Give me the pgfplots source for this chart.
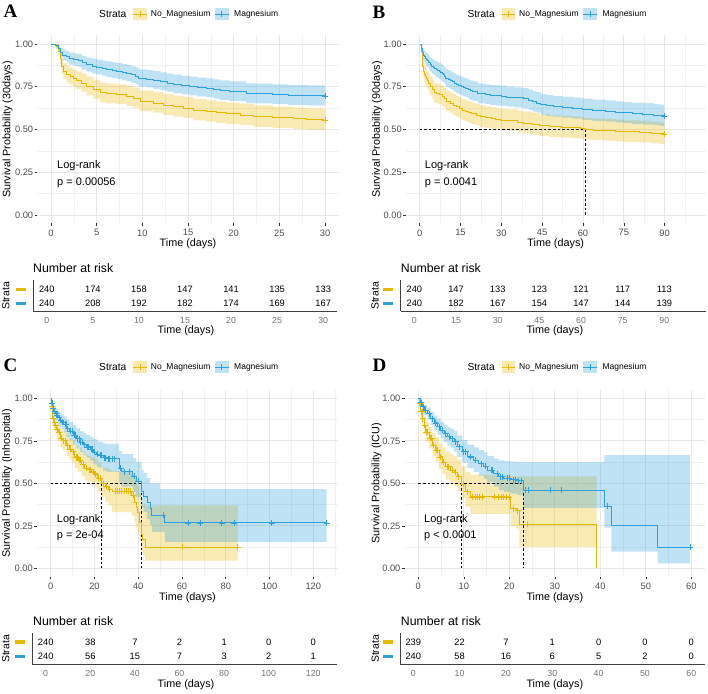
\documentclass[border=0pt]{standalone}
\usepackage{pgfplots}
\pgfplotsset{compat=1.18}
\usepackage{pgfplotstable}
\usepgfplotslibrary{fillbetween}
\usepackage{fontspec}
\setmainfont{Liberation Sans}
\newfontfamily\letterfont{Liberation Serif}

\definecolor{cY}{HTML}{E7B800}
\definecolor{cB}{HTML}{2E9FDF}
\definecolor{tk}{HTML}{4D4D4D}

% ---------- Kaplan-Meier estimates: time, survival, 95% lower, 95% upper ----------
% 30-day survival
\pgfplotstableread{
t s lo up
0 1 1 1
0.55 .986 .971 1
0.80 .957 .932 .983
0.99 .918 .884 .953
1.17 .869 .827 .913
1.35 .840 .795 .888
1.72 .821 .774 .871
2.08 .811 .763 .862
2.45 .797 .748 .850
2.81 .786 .736 .840
3.36 .772 .721 .827
3.90 .753 .700 .810
4.64 .733 .679 .791
5.37 .714 .659 .774
6.10 .708 .653 .768
7.19 .704 .649 .764
8.28 .694 .638 .755
9.00 .684 .628 .745
9.74 .665 .608 .727
11.2 .655 .598 .718
12.3 .643 .585 .707
13.4 .633 .575 .697
14.5 .625 .567 .689
15.6 .612 .553 .677
17.0 .605 .546 .670
18.1 .598 .539 .663
19.2 .592 .533 .657
20.7 .585 .526 .651
22.2 .575 .516 .641
24.3 .568 .509 .634
26.5 .562 .503 .628
28.0 .558 .499 .624
29.8 .554 .495 .621
30 .554 .495 .621
}\Ay
\pgfplotstableread{
t s lo up
0 1 1 1
0.5 .99 .977 1
0.8 .975 .955 .995
1.0 .95 .923 .978
1.3 .935 .904 .967
1.7 .925 .892 .959
2.0 .915 .880 .951
2.5 .908 .872 .945
3.0 .903 .866 .941
3.4 .89 .851 .930
3.9 .878 .838 .920
4.5 .87 .828 .914
5.0 .865 .823 .909
5.6 .858 .815 .903
6.1 .852 .808 .898
6.7 .846 .802 .893
7.2 .84 .795 .888
7.8 .834 .788 .882
8.3 .828 .782 .877
8.8 .82 .773 .870
9.3 .812 .764 .863
9.6 .80 .751 .852
10.5 .795 .746 .848
11.2 .787 .737 .841
12.0 .78 .729 .834
12.7 .772 .721 .827
13.4 .765 .713 .821
14.3 .758 .706 .814
15.2 .752 .699 .809
16.0 .747 .694 .804
17.0 .742 .689 .799
17.8 .735 .681 .793
18.5 .728 .674 .787
19.5 .722 .667 .781
21.4 .71 .655 .770
22.5 .708 .653 .768
24.3 .704 .649 .764
26.0 .70 .644 .760
28.0 .697 .641 .758
30 .696 .640 .757
}\Ab
% 90-day survival
\pgfplotstableread{
t s lo up
0 1 1 1
0.55 .986 .971 1
0.80 .957 .932 .983
0.99 .918 .884 .953
1.17 .869 .827 .913
1.35 .840 .795 .888
1.72 .821 .774 .871
2.08 .811 .763 .862
2.45 .797 .748 .850
2.81 .786 .736 .840
3.36 .772 .721 .827
3.90 .753 .700 .810
4.64 .733 .679 .791
5.37 .714 .659 .774
6.10 .708 .653 .768
7.19 .704 .649 .764
8.28 .694 .638 .755
9.00 .684 .628 .745
9.74 .665 .608 .727
11.2 .655 .598 .718
12.3 .643 .585 .707
13.4 .633 .575 .697
14.5 .625 .567 .689
15.6 .612 .553 .677
17.0 .605 .546 .670
18.1 .598 .539 .663
19.2 .592 .533 .657
20.7 .585 .526 .651
22.2 .575 .516 .641
24.3 .568 .509 .634
26.5 .562 .503 .628
28.0 .558 .499 .624
29.8 .554 .495 .621
33 .55 .491 .617
36 .543 .483 .610
38 .538 .478 .605
41.5 .53 .470 .597
44 .522 .462 .589
47.7 .515 .455 .582
52 .513 .453 .580
56 .51 .450 .577
59 .506 .446 .573
60.8 .50 .441 .567
64 .497 .438 .564
68.4 .495 .435 .562
72 .49 .431 .558
75.5 .487 .428 .554
80.7 .483 .424 .551
85 .478 .419 .546
88 .474 .415 .542
89.9 .471 .412 .539
}\By
\pgfplotstableread{
t s lo up
0 1 1 1
0.5 .99 .977 1
0.8 .975 .955 .995
1.0 .95 .923 .978
1.3 .935 .904 .967
1.7 .925 .892 .959
2.0 .915 .880 .951
2.5 .908 .872 .945
3.0 .903 .866 .941
3.4 .89 .851 .930
3.9 .878 .838 .920
4.5 .87 .828 .914
5.0 .865 .823 .909
5.6 .858 .815 .903
6.1 .852 .808 .898
6.7 .846 .802 .893
7.2 .84 .795 .888
7.8 .834 .788 .882
8.3 .828 .782 .877
8.8 .82 .773 .870
9.3 .812 .764 .863
9.6 .80 .751 .852
10.5 .795 .746 .848
11.2 .787 .737 .841
12.0 .78 .729 .834
12.7 .772 .721 .827
13.4 .765 .713 .821
14.3 .758 .706 .814
15.2 .752 .699 .809
16.0 .747 .694 .804
17.0 .742 .689 .799
17.8 .735 .681 .793
18.5 .728 .674 .787
19.5 .722 .667 .781
21.4 .71 .655 .770
22.5 .708 .653 .768
24.3 .704 .649 .764
26.0 .70 .644 .760
28.0 .697 .641 .758
30 .696 .640 .757
32 .69 .634 .751
35 .686 .630 .747
38 .68 .623 .742
40 .672 .615 .734
41.5 .662 .605 .725
43 .655 .598 .718
44.5 .645 .587 .709
46.4 .638 .580 .702
49 .633 .575 .697
52.5 .628 .570 .692
56.2 .622 .564 .686
59.9 .615 .556 .680
63.5 .61 .551 .675
68.4 .605 .546 .670
72 .60 .541 .665
74.6 .597 .538 .662
78 .592 .533 .657
82 .588 .529 .654
86 .584 .525 .650
88 .58 .521 .646
89.9 .577 .518 .643
}\Bb
% in-hospital survival
\pgfplotstableread{
t s lo up
0 1 1 1
0.5 .95 .923 .978
0.9 .88 .84 .92
1.5 .86 .817 .905
2.0 .84 .795 .887
2.7 .815 .767 .865
3.5 .80 .75 .853
4.5 .765 .712 .822
5.5 .75 .695 .81
7.3 .72 .662 .783
8.5 .70 .64 .766
9.6 .685 .622 .754
11.0 .655 .59 .728
12.5 .635 .568 .71
14.2 .612 .543 .69
15.5 .59 .52 .67
16.8 .58 .508 .662
18.7 .567 .493 .652
20.2 .555 .48 .642
21.3 .53 .453 .62
23.3 .498 .42 .59
25.0 .482 .39 .59
26.5 .465 .37 .58
28.0 .452 .33 .57
37.0 .43 .31 .56
38.3 .39 .27 .53
39.0 .36 .24 .50
39.6 .33 .21 .48
40.5 .27 .16 .44
41.3 .20 .10 .40
42.0 .17 .075 .38
43.1 .124 .045 .37
85.5 .124 .045 .37
}\Cy
\pgfplotstableread{
t s lo up
0 1 1 1
0.5 .97 .949 .99
0.9 .94 .91 .97
1.5 .925 .892 .958
2.2 .91 .875 .946
2.7 .90 .864 .938
3.5 .885 .846 .926
4.2 .872 .83 .915
5.0 .861 .817 .906
6.0 .846 .80 .894
7.3 .822 .773 .874
8.5 .805 .753 .86
10.3 .782 .727 .84
11.8 .762 .705 .823
13.4 .743 .683 .807
15.0 .727 .665 .794
16.4 .714 .65 .784
18.0 .70 .633 .773
19.5 .684 .615 .76
21.0 .672 .60 .752
21.8 .665 .592 .745
24.0 .651 .575 .735
25.6 .645 .567 .732
31.3 .59 .505 .69
32.4 .568 .48 .672
37.5 .54 .45 .65
39.0 .512 .42 .625
41.6 .45 .355 .58
42.5 .425 .33 .56
44.0 .385 .29 .53
45.4 .35 .255 .50
46.2 .312 .215 .50
50.0 .312 .215 .465
52.2 .267 .155 .465
126.1 .267 .155 .465
}\Cb
% ICU survival
\pgfplotstableread{
t s lo up
0 1 1 1
0.3 .97 .95 .99
0.5 .92 .885 .956
0.9 .88 .837 .925
1.25 .84 .79 .893
1.6 .80 .745 .86
2.35 .765 .705 .83
3.1 .725 .66 .797
3.8 .695 .627 .772
4.55 .655 .585 .735
5.3 .625 .552 .71
6.0 .598 .522 .687
7.1 .578 .50 .67
7.85 .565 .485 .66
8.6 .538 .455 .637
9.45 .495 .41 .60
10.4 .45 .36 .565
11.5 .42 .32 .55
20.3 .35 .25 .54
21.5 .34 .235 .54
22.2 .26 .126 .54
39.2 0 .126 .54
}\Dy
\pgfplotstableread{
t s lo up
0 1 1 1
0.5 .975 .955 .995
0.9 .95 .924 .977
1.25 .93 .90 .96
2.0 .91 .876 .945
2.7 .88 .842 .92
3.45 .855 .813 .90
4.2 .832 .787 .88
4.9 .812 .765 .862
5.65 .792 .742 .845
6.4 .775 .722 .832
7.1 .762 .707 .822
7.85 .745 .688 .808
8.6 .715 .655 .78
9.7 .685 .622 .755
10.8 .655 .59 .728
12.2 .635 .567 .712
13.3 .615 .545 .695
14.4 .60 .528 .682
15.2 .578 .505 .662
16.6 .557 .48 .645
17.7 .538 .46 .635
18.8 .53 .45 .63
20.3 .522 .44 .627
21.8 .515 .43 .625
23.1 .46 .355 .625
40.9 .365 .24 .665
42.4 .25 .098 .665
52.6 .125 .029 .665
59.7 .125 .029 .665
}\Db

% ---------- numbers at risk: time, stratum row (2 = No_Magnesium, 1 = Magnesium), count ----------
\pgfplotstableread{
t r n
0 2 240
5 2 174
10 2 158
15 2 147
20 2 141
25 2 135
30 2 133
0 1 240
5 1 208
10 1 192
15 1 182
20 1 174
25 1 169
30 1 167
}\RA
\pgfplotstableread{
t r n
0 2 240
15 2 147
30 2 133
45 2 123
60 2 121
75 2 117
90 2 113
0 1 240
15 1 182
30 1 167
45 1 154
60 1 147
75 1 144
90 1 139
}\RB
\pgfplotstableread{
t r n
0 2 240
20 2 38
40 2 7
60 2 2
80 2 1
100 2 0
120 2 0
0 1 240
20 1 56
40 1 15
60 1 7
80 1 3
100 1 2
120 1 1
}\RC
\pgfplotstableread{
t r n
0 2 239
10 2 22
20 2 7
30 2 1
40 2 0
50 2 0
60 2 0
0 1 240
10 1 58
20 1 16
30 1 6
40 1 5
50 1 2
60 1 0
}\RD

\pgfplotsset{
  /pgf/number format/assume math mode=true,
  km/.style={
    scale only axis, anchor=south west,
    axis line style={draw=none},
    xtick pos=left, ytick pos=left,
    tick align=outside, major tick length=2.6pt, minor tick length=0pt,
    tick style={draw=black!80, line width=0.55pt},
    grid=both,
    major grid style={draw=black!9, line width=0.8pt},
    minor grid style={draw=black!6, line width=0.45pt},
    ymin=-0.05, ymax=1.05,
    ytick={0,0.25,0.5,0.75,1},
    yticklabels={0.00,0.25,0.50,0.75,1.00},
    minor ytick={0.125,0.375,0.625,0.875},
    tick label style={font=\fontsize{9.3}{10}\selectfont, text=tk, inner sep=0pt},
    xticklabel style={anchor=north, yshift=-3.3pt},
    yticklabel style={anchor=east, xshift=-1.4pt},
  },
  band/.style={draw=none, fill=#1, fill opacity=0.3},
  bound/.style={const plot, draw=none, mark=none},
  curve/.style={const plot, #1, line width=0.9pt, mark=none},
  cens/.style={only marks, mark=+, mark size=3pt, #1, mark options={line width=0.8pt, solid}},
  med/.style={black, line width=0.65pt, dash pattern=on 2.6pt off 2pt, mark=none},
  risk/.style={
    scale only axis, anchor=south west,
    axis x line*=bottom, axis y line*=left,
    axis line style={draw=black!75, line width=0.6pt},
    tick style={draw=none}, major tick length=0pt, minor tick length=0pt,
    ymin=0.45, ymax=2.65, ytick={1,2},
    yticklabels={{\textcolor{cB}{\rule{10pt}{3.3pt}}},{\textcolor{cY}{\rule{10pt}{3.3pt}}}},
    yticklabel style={anchor=east, inner sep=0pt, xshift=-7pt},
    xticklabel style={font=\fontsize{8.8}{9}\selectfont, text=black!55, anchor=north, inner sep=0pt, yshift=-5.9pt},
    clip=false,
  },
  rnum/.style={draw=none, mark=none, nodes near coords, point meta=explicit symbolic,
    nodes near coords style={anchor=center, inner sep=0pt, font=\fontsize{9.3}{10}\selectfont, text=black}},
}

% legend row: "Strata" and the two keys
\newcommand{\kmkey}[3]{%
  \fill[#3!30] (#1,#2-5.8) rectangle ++(13.7,11.6);
  \draw[#3, line width=0.9pt] (#1,#2) -- ++(13.7,0);
  \draw[#3, line width=0.8pt] (#1+6.85,#2-3) -- ++(0,6);
}
\newcommand{\kmlegend}[2]{%
  \node[anchor=west, inner sep=0pt, font=\fontsize{10.2}{11}\selectfont] at (#1,#2) {Strata};
  \kmkey{#1+34.3}{#2}{cY}
  \node[anchor=west, inner sep=0pt, font=\fontsize{8.5}{9}\selectfont] at (#1+51.7,#2) {No\_Magnesium};
  \kmkey{#1+116}{#2}{cB}
  \node[anchor=west, inner sep=0pt, font=\fontsize{8.5}{9}\selectfont] at (#1+135,#2) {Magnesium};
}
\newcommand{\ttl}{\fontsize{10.8}{11}\selectfont}

\begin{document}
\begin{tikzpicture}[x=1pt, y=1pt]

% ================= A: 30 days =================
\begin{axis}[km, at={(37.3pt,469.5pt)}, width=301.4pt, height=188pt,
  xmin=-1.5, xmax=31.5, xtick={0,5,...,30}, minor xtick={2.5,7.5,...,27.5}]
  \addplot[bound, name path=ayu] table[x=t,y=up]{\Ay};
  \addplot[bound, name path=ayl] table[x=t,y=lo]{\Ay};
  \addplot[band=cY] fill between[of=ayu and ayl];
  \addplot[bound, name path=abu] table[x=t,y=up]{\Ab};
  \addplot[bound, name path=abl] table[x=t,y=lo]{\Ab};
  \addplot[band=cB] fill between[of=abu and abl];
  \addplot[curve=cY] table[x=t,y=s]{\Ay};
  \addplot[curve=cB] table[x=t,y=s]{\Ab};
  \addplot[cens=cY] coordinates {(30,0.554)};
  \addplot[cens=cB] coordinates {(30,0.696)};
\end{axis}
\begin{axis}[risk, at={(33pt,382pt)}, width=304pt, height=30.8pt,
  xmin=-1.5, xmax=31.5, xtick={0,5,...,30}]
  \addplot[rnum] table[x=t,y=r,meta=n]{\RA};
\end{axis}

% ================= B: 90 days =================
\begin{axis}[km, at={(406pt,469.5pt)}, width=299.5pt, height=188pt,
  xmin=-5, xmax=105, xtick={0,15,...,90}, minor xtick={7.5,22.5,...,97.5}]
  \addplot[bound, name path=byu] table[x=t,y=up]{\By};
  \addplot[bound, name path=byl] table[x=t,y=lo]{\By};
  \addplot[band=cY] fill between[of=byu and byl];
  \addplot[bound, name path=bbu] table[x=t,y=up]{\Bb};
  \addplot[bound, name path=bbl] table[x=t,y=lo]{\Bb};
  \addplot[band=cB] fill between[of=bbu and bbl];
  \addplot[med] coordinates {(0,0.5) (60.8,0.5) (60.8,0)};
  \addplot[curve=cY] table[x=t,y=s]{\By};
  \addplot[curve=cB] table[x=t,y=s]{\Bb};
  \addplot[cens=cY] coordinates {(89.9,0.471)};
  \addplot[cens=cB] coordinates {(89.9,0.577)};
\end{axis}
\begin{axis}[risk, at={(400.5pt,382pt)}, width=305.5pt, height=30.8pt,
  xmin=-5, xmax=105, xtick={0,15,...,90}]
  \addplot[rnum] table[x=t,y=r,meta=n]{\RB};
\end{axis}

% ================= C: in-hospital =================
\begin{axis}[km, at={(37pt,116.2pt)}, width=301pt, height=187pt,
  xmin=-6.26, xmax=131.3, xtick={0,20,...,120}, minor xtick={10,30,...,130}]
  \addplot[bound, name path=cyu] table[x=t,y=up]{\Cy};
  \addplot[bound, name path=cyl] table[x=t,y=lo]{\Cy};
  \addplot[band=cY] fill between[of=cyu and cyl];
  \addplot[bound, name path=cbu] table[x=t,y=up]{\Cb};
  \addplot[bound, name path=cbl] table[x=t,y=lo]{\Cb};
  \addplot[band=cB] fill between[of=cbu and cbl];
  \addplot[med] coordinates {(0,0.5) (41.6,0.5)};
  \addplot[med] coordinates {(23.3,0.5) (23.3,0)};
  \addplot[med] coordinates {(41.6,0.5) (41.6,0)};
  \addplot[curve=cY] table[x=t,y=s]{\Cy};
  \addplot[curve=cB] table[x=t,y=s]{\Cb};
  \addplot[cens=cY] coordinates {(0.7,.95) (1.2,.88) (1.8,.86) (2.3,.84) (3.0,.815) (3.9,.80) (4.9,.765) (6.0,.75) (6.6,.75) (7.8,.72) (8.9,.70) (10.2,.685) (11.6,.655) (12.0,.655) (13.0,.635) (13.6,.635) (14.8,.612) (16.1,.59) (17.5,.58) (18.0,.58) (19.3,.567) (20.6,.555) (22.0,.53) (22.6,.53) (24.0,.498) (25.6,.482) (27.0,.465) (29.5,.452) (30.5,.452) (31.5,.452) (32.5,.452) (33.5,.452) (34.5,.452) (35.5,.452) (36.3,.452) (37.6,.43) (60.3,.124) (85.5,.124)};
  \addplot[cens=cB] coordinates {(0.7,.97) (1.2,.94) (1.8,.925) (2.4,.91) (3.0,.90) (3.8,.885) (4.6,.872) (5.5,.861) (6.5,.846) (7.0,.846) (7.8,.822) (9.0,.805) (9.8,.805) (10.8,.782) (11.2,.782) (12.3,.762) (12.9,.762) (13.8,.743) (14.5,.743) (15.5,.727) (16.8,.714) (17.3,.714) (18.5,.70) (19.0,.70) (20.2,.684) (21.4,.672) (22.5,.665) (23.2,.665) (24.5,.651) (25.0,.651) (26.2,.645) (27.0,.645) (28.0,.645) (29.0,.645) (32.0,.59) (33.5,.568) (36.0,.568) (38.2,.54) (40.0,.512) (51.3,.312) (62.9,.267) (68.2,.267) (78.1,.267) (83.9,.267) (101,.267) (126.1,.267)};
\end{axis}
\begin{axis}[risk, at={(32.3pt,28.7pt)}, width=304.4pt, height=31.7pt,
  xmin=-6, xmax=130.5, xtick={0,20,...,120}]
  \addplot[rnum] table[x=t,y=r,meta=n]{\RC};
\end{axis}

% ================= D: ICU =================
\begin{axis}[km, at={(404.6pt,116.2pt)}, width=300.4pt, height=187pt,
  xmin=-3.01, xmax=63, xtick={0,10,...,60}, minor xtick={5,15,...,55}]
  \addplot[bound, name path=dyu] table[x=t,y=up]{\Dy};
  \addplot[bound, name path=dyl] table[x=t,y=lo]{\Dy};
  \addplot[band=cY] fill between[of=dyu and dyl];
  \addplot[bound, name path=dbu] table[x=t,y=up]{\Db};
  \addplot[bound, name path=dbl] table[x=t,y=lo]{\Db};
  \addplot[band=cB] fill between[of=dbu and dbl];
  \addplot[med] coordinates {(0,0.5) (23.1,0.5) (23.1,0)};
  \addplot[med] coordinates {(9.45,0.5) (9.45,0)};
  \addplot[curve=cY] table[x=t,y=s]{\Dy};
  \addplot[curve=cB] table[x=t,y=s]{\Db};
  \addplot[cens=cY] coordinates {(0.35,.97) (0.6,.92) (0.8,.92) (1.0,.88) (1.4,.84) (1.8,.80) (2.1,.80) (2.6,.765) (2.9,.765) (3.4,.725) (4.0,.695) (4.3,.695) (4.8,.655) (5.6,.625) (6.3,.598) (6.7,.598) (7.5,.578) (8.1,.565) (8.9,.538) (9.9,.495) (10.8,.45) (11.9,.42) (12.6,.42) (13.0,.42) (13.5,.42) (14.0,.42) (16.8,.42) (17.5,.42) (18.2,.42) (18.8,.42) (19.4,.42) (20.0,.42) (21.0,.35) (21.8,.34) (24.0,.26)};
  \addplot[cens=cB] coordinates {(0.7,.975) (1.1,.95) (1.6,.93) (2.35,.91) (3.1,.88) (3.8,.855) (4.55,.832) (5.3,.812) (6.0,.792) (6.75,.775) (7.4,.762) (8.2,.745) (8.95,.715) (10.0,.685) (10.4,.685) (11.5,.655) (12.6,.635) (13.8,.615) (14.8,.60) (16.0,.578) (16.3,.578) (17.4,.557) (18.1,.538) (18.5,.538) (19.6,.53) (20.0,.53) (21.0,.522) (21.4,.522) (22.1,.515) (22.6,.515) (23.6,.46) (24.1,.46) (29.1,.46) (31.4,.46) (41.5,.365) (59.7,.125)};
\end{axis}
\begin{axis}[risk, at={(400pt,28.7pt)}, width=305pt, height=31.7pt,
  xmin=-2.87, xmax=62.96, xtick={0,10,...,60}]
  \addplot[rnum] table[x=t,y=r,meta=n]{\RD};
\end{axis}

% ---------- panel letters ----------
\begin{scope}[every node/.style={anchor=base west, inner sep=0pt, font=\letterfont\bfseries\fontsize{19}{19}\selectfont}]
  \node at (3.3,675.7) {A};
  \node at (372.3,674.7) {B};
  \node at (3.3,321.3) {C};
  \node at (372.3,321.3) {D};
\end{scope}

% ---------- legends ----------
\kmlegend{99}{679}
\kmlegend{467.3}{679}
\kmlegend{99}{326}
\kmlegend{467.3}{326}

% ---------- axis titles ----------
\begin{scope}[every node/.style={font=\ttl, inner sep=0pt}]
  \node[rotate=90] at (7.5,563.5) {Survival Probability (30days)};
  \node[rotate=90] at (377,563.5) {Survival Probability (90days)};
  \node[rotate=90] at (7,209.7) {Survival Probability (Inhospital)};
  \node[rotate=90] at (376.5,209.7) {Survival Probability (ICU)};
  \node at (188,449) {Time (days)};
  \node at (555.7,449) {Time (days)};
  \node at (187.5,95) {Time (days)};
  \node at (554.8,95) {Time (days)};
  \node at (186,362) {Time (days)};
  \node at (554.8,362) {Time (days)};
  \node at (186,8) {Time (days)};
  \node at (554.8,8) {Time (days)};
\end{scope}
\begin{scope}[every node/.style={font=\fontsize{10.4}{11}\selectfont, inner sep=0pt, rotate=90}]
  \node at (5.8,397) {Strata};
  \node at (375,397) {Strata};
  \node at (5.8,44) {Strata};
  \node at (375.3,44) {Strata};
\end{scope}
\begin{scope}[every node/.style={font=\fontsize{12.3}{13}\selectfont, inner sep=0pt, anchor=west}]
  \node at (33,425) {Number at risk};
  \node at (400.7,425) {Number at risk};
  \node at (33,72) {Number at risk};
  \node at (400.7,72) {Number at risk};
\end{scope}

% ---------- log-rank tests ----------
\begin{scope}[every node/.style={font=\fontsize{11}{12}\selectfont, inner sep=0pt, anchor=base west}]
  \node at (57,524.5) {Log-rank};
  \node at (57,507.5) {p = 0.00056};
  \node at (424.7,524.5) {Log-rank};
  \node at (424.7,507.5) {p = 0.0041};
  \node at (56.7,170.7) {Log-rank};
  \node at (56.7,154.7) {p = 2e-04};
  \node at (424,170.7) {Log-rank};
  \node at (424,154.7) {p < 0.0001};
\end{scope}

% fixed page size
\pgfresetboundingbox
\path[use as bounding box] (0,0) rectangle (708,693);
\end{tikzpicture}
\end{document}
